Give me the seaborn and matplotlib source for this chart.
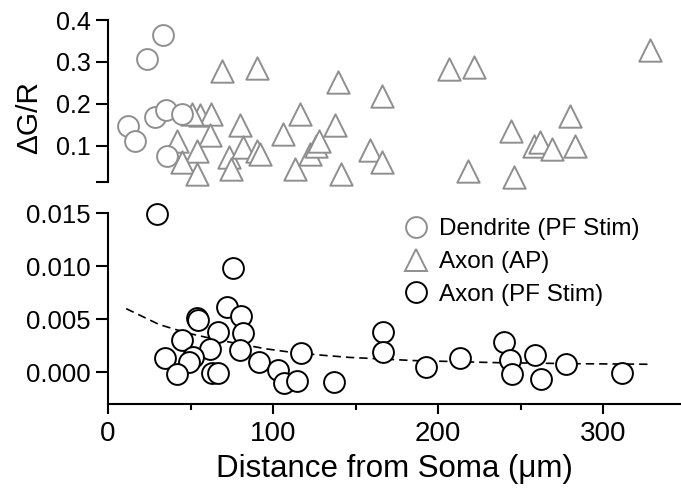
import matplotlib
matplotlib.use('Agg')
import matplotlib.pyplot as plt
import pandas as pd
import seaborn as sns
from matplotlib.lines import Line2D
from matplotlib.ticker import FormatStrFormatter

# top panel: dendrite (PF stim), circles
dend_x = [33.5, 23.4, 12.3, 16.4, 28.5, 35.0, 44.7, 35.6]
dend_y = [0.364, 0.306, 0.146, 0.111, 0.168, 0.184, 0.176, 0.076]

# top panel: axon (AP), triangles
ap_x = [69.3, 90.1, 139.0, 55.8, 62.2, 50.7, 80.0, 116.4, 105.9, 137.6,
        41.6, 61.8, 53.8, 44.7, 54.1, 73.5, 74.4, 82.0, 90.1, 92.0,
        113.3, 122.4, 126.0, 128.0, 141.0, 165.8, 158.8, 165.8, 206.3, 221.8,
        218.0, 244.2, 246.0, 257.8, 261.8, 268.9, 280.0, 283.0, 328.0]
ap_y = [0.278, 0.286, 0.252, 0.172, 0.176, 0.176, 0.148, 0.176, 0.128, 0.149,
        0.112, 0.126, 0.088, 0.060, 0.033, 0.072, 0.045, 0.096, 0.086, 0.080,
        0.043, 0.080, 0.100, 0.110, 0.033, 0.218, 0.090, 0.060, 0.284, 0.288,
        0.040, 0.136, 0.024, 0.100, 0.108, 0.092, 0.170, 0.098, 0.328]

# bottom panel: axon (PF stim), circles
pf_x = [29.5, 75.5, 71.9, 80.4, 53.7, 54.6, 66.9, 81.6, 44.6, 61.8,
        80.0, 51.7, 34.5, 49.0, 41.6, 62.7, 66.9, 91.7, 102.8, 106.7,
        114.3, 117.0, 136.6, 166.5, 166.5, 192.7, 212.9, 239.6, 243.6, 244.7,
        258.8, 262.4, 277.6, 311.0]
pf_y = [0.0149, 0.00987, 0.00613, 0.00534, 0.00515, 0.0049, 0.00383, 0.00367, 0.00305, 0.00217,
        0.0021, 0.00147, 0.00132, 0.0010, -0.00019, -0.0001, -0.00004, 0.0010, 0.0002, -0.00104,
        -0.00079, 0.00179, -0.00088, 0.00383, 0.00194, 0.00047, 0.00132, 0.00283, 0.00116, -0.00019,
        0.00163, -0.00063, 0.00075, -0.00004]

# dashed fit
fit_x = [11, 31, 48, 65, 82, 96, 110, 130, 146, 185, 236, 286, 329]
fit_y = [0.0060, 0.0045, 0.0037, 0.0031, 0.0026, 0.0022, 0.0019, 0.0016, 0.0014,
         0.0011, 0.0009, 0.0008, 0.00075]

dend = pd.DataFrame({'dist': dend_x, 'dgr': dend_y})
ap = pd.DataFrame({'dist': ap_x, 'dgr': ap_y})
pf = pd.DataFrame({'dist': pf_x, 'dgr': pf_y})
fit = pd.DataFrame({'dist': fit_x, 'dgr': fit_y})

sns.set_style('ticks')
plt.rcParams['font.family'] = ['Liberation Sans', 'DejaVu Sans']
plt.rcParams['text.color'] = 'black'
plt.rcParams['axes.labelcolor'] = 'black'
plt.rcParams['xtick.color'] = 'black'
plt.rcParams['ytick.color'] = 'black'

gray = '#8f8f8f'
lw = 1.4

fig = plt.figure(figsize=(6.81, 4.94), dpi=100)
ax_top = fig.add_axes([0.1586, 0.6322, 0.8414, 0.3273])
ax_bot = fig.add_axes([0.1586, 0.1822, 0.8414, 0.3860])

sns.scatterplot(data=ap, x='dist', y='dgr', ax=ax_top, marker='^', s=260,
                facecolor='white', edgecolor=gray, linewidth=lw, clip_on=False, zorder=3)
sns.scatterplot(data=dend, x='dist', y='dgr', ax=ax_top, marker='o', s=225,
                facecolor='white', edgecolor=gray, linewidth=lw, clip_on=False, zorder=4)

sns.lineplot(data=fit, x='dist', y='dgr', ax=ax_bot, color='black', lw=1.2,
             linestyle=(0, (5, 3)), zorder=2)
sns.scatterplot(data=pf, x='dist', y='dgr', ax=ax_bot, marker='o', s=225,
                facecolor='white', edgecolor='black', linewidth=lw, clip_on=False, zorder=3)

for ax in (ax_top, ax_bot):
    ax.set_xlim(0, 347)
    for sp in ax.spines.values():
        sp.set_linewidth(1.5)
        sp.set_color('black')
    ax.set_xlabel('')
    ax.set_ylabel('')

sns.despine(ax=ax_top, bottom=True)
sns.despine(ax=ax_bot)

ax_top.set_ylim(0.0137, 0.4)
ax_top.set_yticks([0.0137, 0.1, 0.2, 0.3, 0.4])
ax_top.set_yticklabels(['', '0.1', '0.2', '0.3', '0.4'])
ax_top.set_xticks([])
ax_top.tick_params(axis='y', direction='out', length=8.5, width=1.5, labelsize=18,
                   pad=4)
ax_top.set_ylabel('ΔG/R', fontsize=21.5)
ax_top.yaxis.set_label_coords(-0.113, 0.40)

ax_bot.set_ylim(-0.003, 0.015)
ax_bot.set_yticks([0.0, 0.005, 0.010, 0.015])
ax_bot.yaxis.set_major_formatter(FormatStrFormatter('%.3f'))
ax_bot.set_xticks([0, 100, 200, 300])
ax_bot.set_xticks([50, 150, 250], minor=True)
ax_bot.tick_params(axis='y', direction='out', length=8.5, width=1.5, labelsize=18.5,
                   pad=4)
ax_bot.tick_params(axis='x', which='major', direction='out', length=7, width=1.5,
                   labelsize=20, pad=5)
ax_bot.tick_params(axis='x', which='minor', direction='out', length=4.3, width=1.5)
ax_bot.set_xlabel('Distance from Soma (μm)', fontsize=22.5, labelpad=5)

handles = [
    Line2D([], [], marker='o', ls='none', ms=15, mfc='white', mec=gray, mew=lw),
    Line2D([], [], marker='^', ls='none', ms=16, mfc='white', mec=gray, mew=lw),
    Line2D([], [], marker='o', ls='none', ms=15, mfc='white', mec='black', mew=lw),
]
labels = ['Dendrite (PF Stim)', 'Axon (AP)', 'Axon (PF Stim)']
ax_bot.legend(handles, labels, loc='upper left', bbox_to_anchor=(0.516, 0.975),
              frameon=False, fontsize=17.5, borderpad=0, borderaxespad=0,
              handlelength=1.0, handletextpad=0.45, labelspacing=0.45)

fig.savefig('out.png', dpi=100)
